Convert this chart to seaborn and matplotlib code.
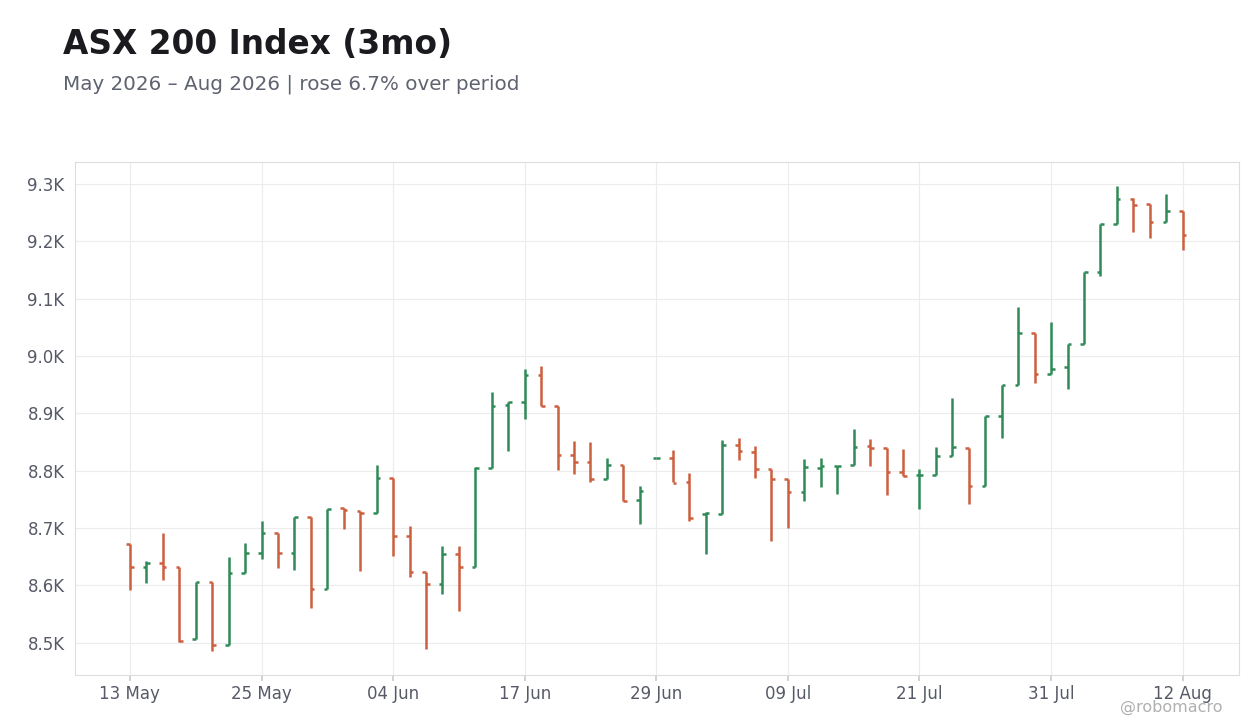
import numpy as np
import pandas as pd
import matplotlib
matplotlib.use("Agg")
import matplotlib.pyplot as plt
import seaborn as sns

tick_labels = ["13 May", "25 May", "04 Jun", "17 Jun", "29 Jun", "09 Jul", "21 Jul", "31 Jul", "12 Aug"]
opens = [8672,8632,8640,8632,8506,8606,8497,8622,8656,8692,8657,8719,8594,8735,8730,8726,8787,8687,8624,8603,
         8654,8633,8805,8914,8920,8966,8912,8828,8816,8785,8810,8749,8822,8822,8780,8724,8725,8844,8832,8803,
         8785,8763,8805,8809,8810,8843,8840,8797,8792,8793,8826,8840,8773,8895,8949,9040,8968,8980,9020,9147,
         9230,9274,9265,9233,9252]
highs = [8672,8643,8692,8632,8606,8606,8650,8674,8712,8692,8719,8719,8733,8735,8730,8810,8787,8703,8624,8668,
         8668,8807,8937,8920,8977,8983,8912,8851,8850,8822,8810,8773,8822,8836,8796,8728,8853,8857,8843,8803,
         8785,8820,8822,8809,8873,8856,8840,8837,8803,8841,8927,8840,8895,8949,9085,9040,9059,9020,9147,9230,
         9296,9275,9265,9282,9252]
lows = [8592,8605,8610,8502,8506,8485,8497,8622,8646,8630,8627,8561,8594,8698,8626,8726,8652,8614,8490,8586,
        8555,8633,8805,8834,8890,8912,8802,8795,8780,8785,8748,8708,8822,8780,8712,8655,8725,8818,8787,8677,
        8701,8748,8771,8759,8810,8809,8758,8791,8733,8793,8826,8742,8773,8857,8949,8952,8968,8942,9020,9139,
        9230,9216,9205,9233,9185]
closes = [8632,8640,8632,8503,8606,8497,8622,8656,8692,8657,8719,8594,8733,8732,8727,8787,8687,8624,8603,8654,
          8633,8805,8913,8920,8966,8912,8828,8816,8785,8810,8748,8765,8822,8779,8718,8727,8844,8834,8803,8785,
          8763,8806,8809,8809,8842,8840,8797,8791,8793,8826,8841,8774,8895,8949,9040,8968,8978,9020,9147,9230,
          9273,9263,9233,9253,9210]

df = pd.DataFrame({"open": opens, "high": highs, "low": lows, "close": closes})
df["i"] = np.arange(len(df))
UP, DOWN = "#2e8b57", "#cc5f3e"
df["color"] = np.where(df["close"] >= df["open"], UP, DOWN)

sns.set_theme(style="whitegrid")
plt.rcParams["font.family"] = ["DejaVu Sans"]
fig = plt.figure(figsize=(12.6, 7.28), dpi=100)
ax = fig.add_axes([0.0595, 0.0728, 0.9235, 0.7047])

ax.vlines(df["i"], df["low"], df["high"], colors=df["color"], linewidth=1.8)
w = 0.22
ax.hlines(df["open"], df["i"] - w, df["i"], colors=df["color"], linewidth=1.8)
ax.hlines(df["close"], df["i"], df["i"] + w, colors=df["color"], linewidth=1.8)

ax.set_xlim(-3.34, 67.4)
ax.set_ylim(8444, 9338)
ax.set_xticks(np.arange(0, 65, 8))
ax.set_xticklabels(tick_labels)
ax.set_yticks(np.arange(8500, 9301, 100))
ax.set_yticklabels([f"{v/1000:.1f}K" for v in np.arange(8500, 9301, 100)])
ax.tick_params(axis="both", labelsize=12, colors="#555a66", length=4)
ax.tick_params(axis="x", bottom=True, color="#cccccc")
ax.grid(True, color="#ececec", linewidth=0.8)
for s in ax.spines.values():
    s.set_color("#dddddd")
    s.set_linewidth(0.8)

fig.text(0.05, 0.962, "ASX 200 Index (3mo)", fontsize=23.6, fontweight="bold", color="#1a1a1f", va="top")
fig.text(0.05, 0.898, "May 2026 – Aug 2026 | rose 6.7% over period", fontsize=14.3, color="#5f6370", va="top")
fig.text(0.97, 0.018, "@robomacro", fontsize=11.5, color="#b0b0b0", ha="right", va="bottom")

fig.savefig("out.png", dpi=100)
